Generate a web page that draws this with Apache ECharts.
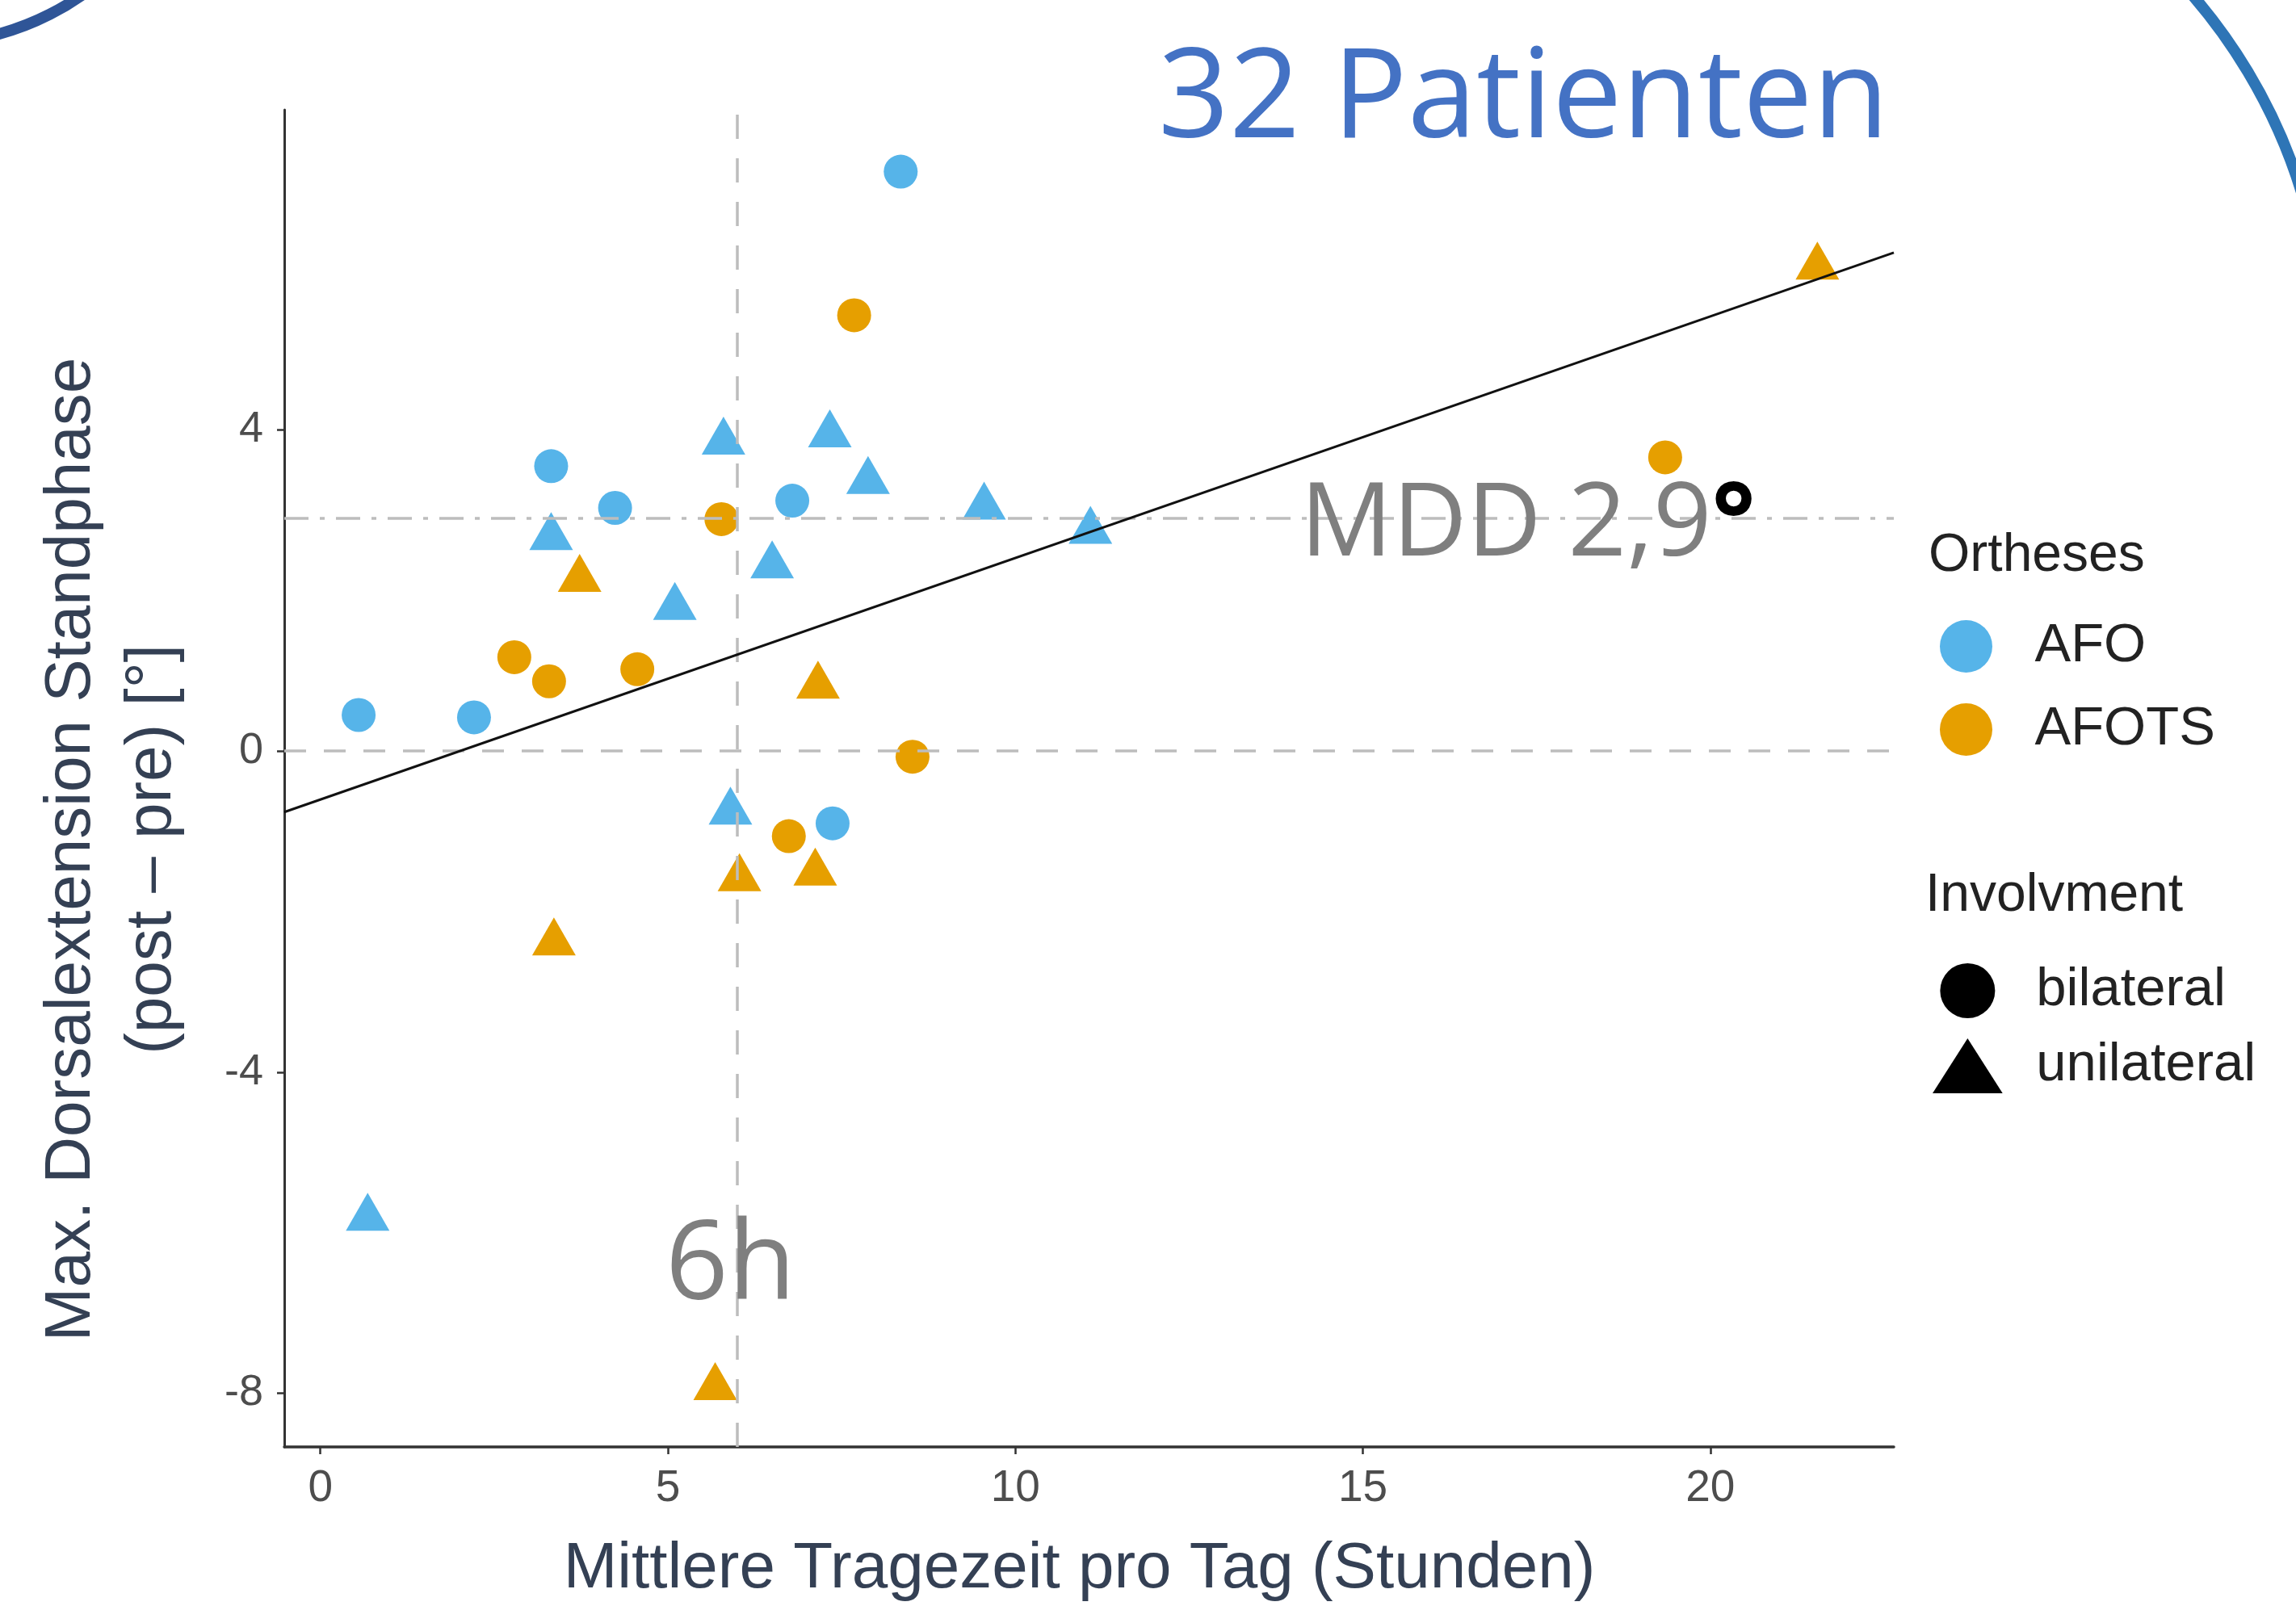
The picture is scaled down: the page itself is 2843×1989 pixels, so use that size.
<!DOCTYPE html>
<html>
<head>
<meta charset="utf-8">
<title>Tragezeit vs. Dorsalextension</title>
<script src="https://cdn.jsdelivr.net/npm/echarts@6.0.0/dist/echarts.min.js"></script>
<style>
html,body{margin:0;padding:0;background:#ffffff;}
#chart{width:2843px;height:1989px;}
</style>
</head>
<body>
<div id="chart"></div>
<script>
/**
 * =====================================================
 * Data
 * =====================================================
 */

const afoHours=[8.35,3.32,4.24,6.79,0.55,2.21,7.37,5.80,7.33,7.88,9.55,11.08,3.32,6.50,5.10,5.90,0.68];
const afoChange=[7.22,3.55,3.03,3.12,0.45,0.42,-0.90,3.93,4.02,3.44,3.12,2.82,2.74,2.39,1.87,-0.68,-5.74];
const afoInvolvement=[
    "bilateral","bilateral","bilateral","bilateral","bilateral","bilateral","bilateral",
    "unilateral","unilateral","unilateral","unilateral","unilateral",
    "unilateral","unilateral","unilateral","unilateral","unilateral"
];

const afotsHours=[7.68,5.77,2.79,3.29,4.56,8.52,6.74,19.35,3.73,7.16,6.03,7.12,3.36,5.68,21.54];
const afotsChange=[5.43,2.89,1.17,0.87,1.02,-0.07,-1.06,3.66,2.22,0.89,-1.51,-1.44,-2.31,-7.85,6.11];
const afotsInvolvement=[
    "bilateral","bilateral","bilateral","bilateral","bilateral","bilateral","bilateral","bilateral",
    "unilateral","unilateral","unilateral","unilateral","unilateral","unilateral","unilateral"
];

// fitted line, ends at the panel edges
const fitHours=[-0.52,22.64];
const fitChange=[-0.76,6.21];

const xTicks=[0,5,10,15,20];
const yTicks=[-8,-4,0,4];

const zeroLevel=0;
const mddLevel=2.9;
const hourMark=6;

/**
 * =====================================================
 * Helpers
 * =====================================================
 */

const BLUE="#56B4E9";
const ORANGE="#E69F00";
const REF_GREY="#BDBDBD";
const AXIS_DARK="#333333";
const TITLE_INK="#344054";

function toPoints(hours,change,involvement){

    return hours.map((h,i)=>{

        const uni=involvement[i]==="unilateral";

        return {
            value:[h,change[i]],
            symbol:uni?"triangle":"circle",
            symbolSize:uni?[54,47]:42
        };

    });

}

const TRI_PATH="path://M0,69 L44,0 L88,69 Z";

/**
 * =====================================================
 * Chart
 * =====================================================
 */

const chart=echarts.init(document.getElementById("chart"),null,{renderer:"canvas"});

chart.setOption({

    backgroundColor:"#ffffff",
    animation:false,

    grid:{
        left:352,
        right:498,
        top:136,
        bottom:192,
        containLabel:false
    },

    xAxis:{
        type:"value",
        min:-0.52,
        max:22.64,
        splitLine:{show:false},
        axisLine:{show:true,onZero:false,lineStyle:{color:AXIS_DARK,width:3.5}},
        axisTick:{show:true,customValues:xTicks,length:9,lineStyle:{color:AXIS_DARK,width:2.5}},
        axisLabel:{
            customValues:xTicks,
            fontFamily:"Liberation Sans",
            fontSize:55,
            color:"#4D4D4D",
            margin:24
        },
        name:"Mittlere Tragezeit pro Tag (Stunden)",
        nameLocation:"middle",
        nameGap:112,
        nameTextStyle:{
            fontFamily:"Liberation Sans",
            fontSize:80,
            color:TITLE_INK,
            padding:[0,24,0,0]
        }
    },

    yAxis:{
        type:"value",
        min:-8.67,
        max:7.99,
        splitLine:{show:false},
        axisLine:{show:true,onZero:false,lineStyle:{color:AXIS_DARK,width:3}},
        axisTick:{show:true,customValues:yTicks,length:9,lineStyle:{color:AXIS_DARK,width:2.5}},
        axisLabel:{
            customValues:yTicks,
            fontFamily:"Liberation Sans",
            fontSize:54,
            color:"#4D4D4D",
            margin:26
        }
    },

    legend:[
        {
            orient:"vertical",
            left:2402,
            top:767,
            padding:0,
            itemWidth:160,
            itemHeight:65,
            itemGap:36,
            selectedMode:false,
            textStyle:{fontFamily:"Liberation Sans",fontSize:67,color:"#222222"},
            data:[
                {name:"AFO",icon:"circle"},
                {name:"AFOTS",icon:"circle"}
            ]
        },
        {
            orient:"vertical",
            left:2393,
            top:1193,
            padding:0,
            itemWidth:160,
            itemHeight:68,
            itemGap:25,
            selectedMode:false,
            symbolKeepAspect:true,
            textStyle:{fontFamily:"Liberation Sans",fontSize:67,color:"#222222"},
            data:[
                {name:"bilateral",icon:"circle",itemStyle:{color:"#000000",opacity:1}},
                {name:"unilateral",icon:TRI_PATH,itemStyle:{color:"#000000",opacity:1}}
            ]
        }
    ],

    series:[
        {
            name:"AFO",
            type:"scatter",
            z:2,
            itemStyle:{color:BLUE,opacity:1},
            data:toPoints(afoHours,afoChange,afoInvolvement)
        },
        {
            name:"AFOTS",
            type:"scatter",
            z:2,
            itemStyle:{color:ORANGE,opacity:1},
            data:toPoints(afotsHours,afotsChange,afotsInvolvement)
        },
        {
            name:"bilateral",
            type:"scatter",
            symbol:"circle",
            itemStyle:{color:"#000000",opacity:1},
            data:[]
        },
        {
            name:"unilateral",
            type:"scatter",
            symbol:"triangle",
            itemStyle:{color:"#000000",opacity:1},
            data:[]
        },
        {
            name:"Regression",
            type:"line",
            z:5,
            silent:true,
            showSymbol:false,
            symbol:"none",
            lineStyle:{color:"#111111",width:3},
            data:fitHours.map((h,i)=>[h,fitChange[i]]),
            markLine:{
                silent:true,
                symbol:["none","none"],
                label:{show:false},
                lineStyle:{color:REF_GREY,width:3.5},
                data:[
                    {yAxis:zeroLevel,lineStyle:{type:[27,22],color:REF_GREY,width:3.5}},
                    {yAxis:mddLevel,lineStyle:{type:[30,14,6,14],color:REF_GREY,width:3.5}},
                    {xAxis:hourMark,lineStyle:{type:[30,24],color:REF_GREY,width:3.5}}
                ]
            }
        }
    ],

    graphic:[
        {
            type:"arc",
            silent:true,
            shape:{cx:-85,cy:-270,r:323,startAngle:0.6,endAngle:1.6},
            style:{stroke:"#2F5597",lineWidth:14,fill:null}
        },
        {
            type:"arc",
            silent:true,
            shape:{cx:2201,cy:438,r:679,startAngle:-0.8,endAngle:-0.28},
            style:{stroke:"#2E75B6",lineWidth:14,fill:null}
        },
        {
            type:"text",
            x:1434,
            y:126,
            z:10,
            style:{
                text:"32 Patienten",
                font:"154px 'Open Sans'",
                fill:"#4472C4",
                align:"left",
                verticalAlign:"middle"
            }
        },
        {
            type:"text",
            x:1610,
            y:652,
            z:10,
            style:{
                text:"{a|MDD 2,9}{b|°}",
                align:"left",
                verticalAlign:"middle",
                rich:{
                    a:{fontFamily:"Open Sans",fontSize:127,fill:"#7F7F7F",color:"#7F7F7F"},
                    b:{fontFamily:"Open Sans",fontSize:127,fontWeight:"bold",color:"#000000",fill:"#000000",verticalAlign:"middle"}
                }
            }
        },
        {
            type:"text",
            x:824,
            y:1570,
            z:10,
            style:{
                text:"6h",
                font:"136px 'Open Sans'",
                fill:"#7F7F7F",
                align:"left",
                verticalAlign:"middle"
            }
        },
        {
            type:"text",
            x:139,
            y:1052,
            rotation:Math.PI/2,
            style:{
                text:"Max. Dorsalextension Standphase\n(post – pre) [°]",
                font:"80px 'Liberation Sans'",
                fill:TITLE_INK,
                align:"center",
                verticalAlign:"middle",
                lineHeight:100
            }
        },
        {
            type:"text",
            x:2388,
            y:689,
            style:{
                text:"Ortheses",
                font:"66px 'Liberation Sans'",
                fill:"#222222",
                align:"left",
                verticalAlign:"middle"
            }
        },
        {
            type:"text",
            x:2384,
            y:1110,
            style:{
                text:"Involvment",
                font:"66px 'Liberation Sans'",
                fill:"#222222",
                align:"left",
                verticalAlign:"middle"
            }
        }
    ]

});

window.addEventListener("resize",()=>{
    chart.resize();
});
</script>
</body>
</html>
